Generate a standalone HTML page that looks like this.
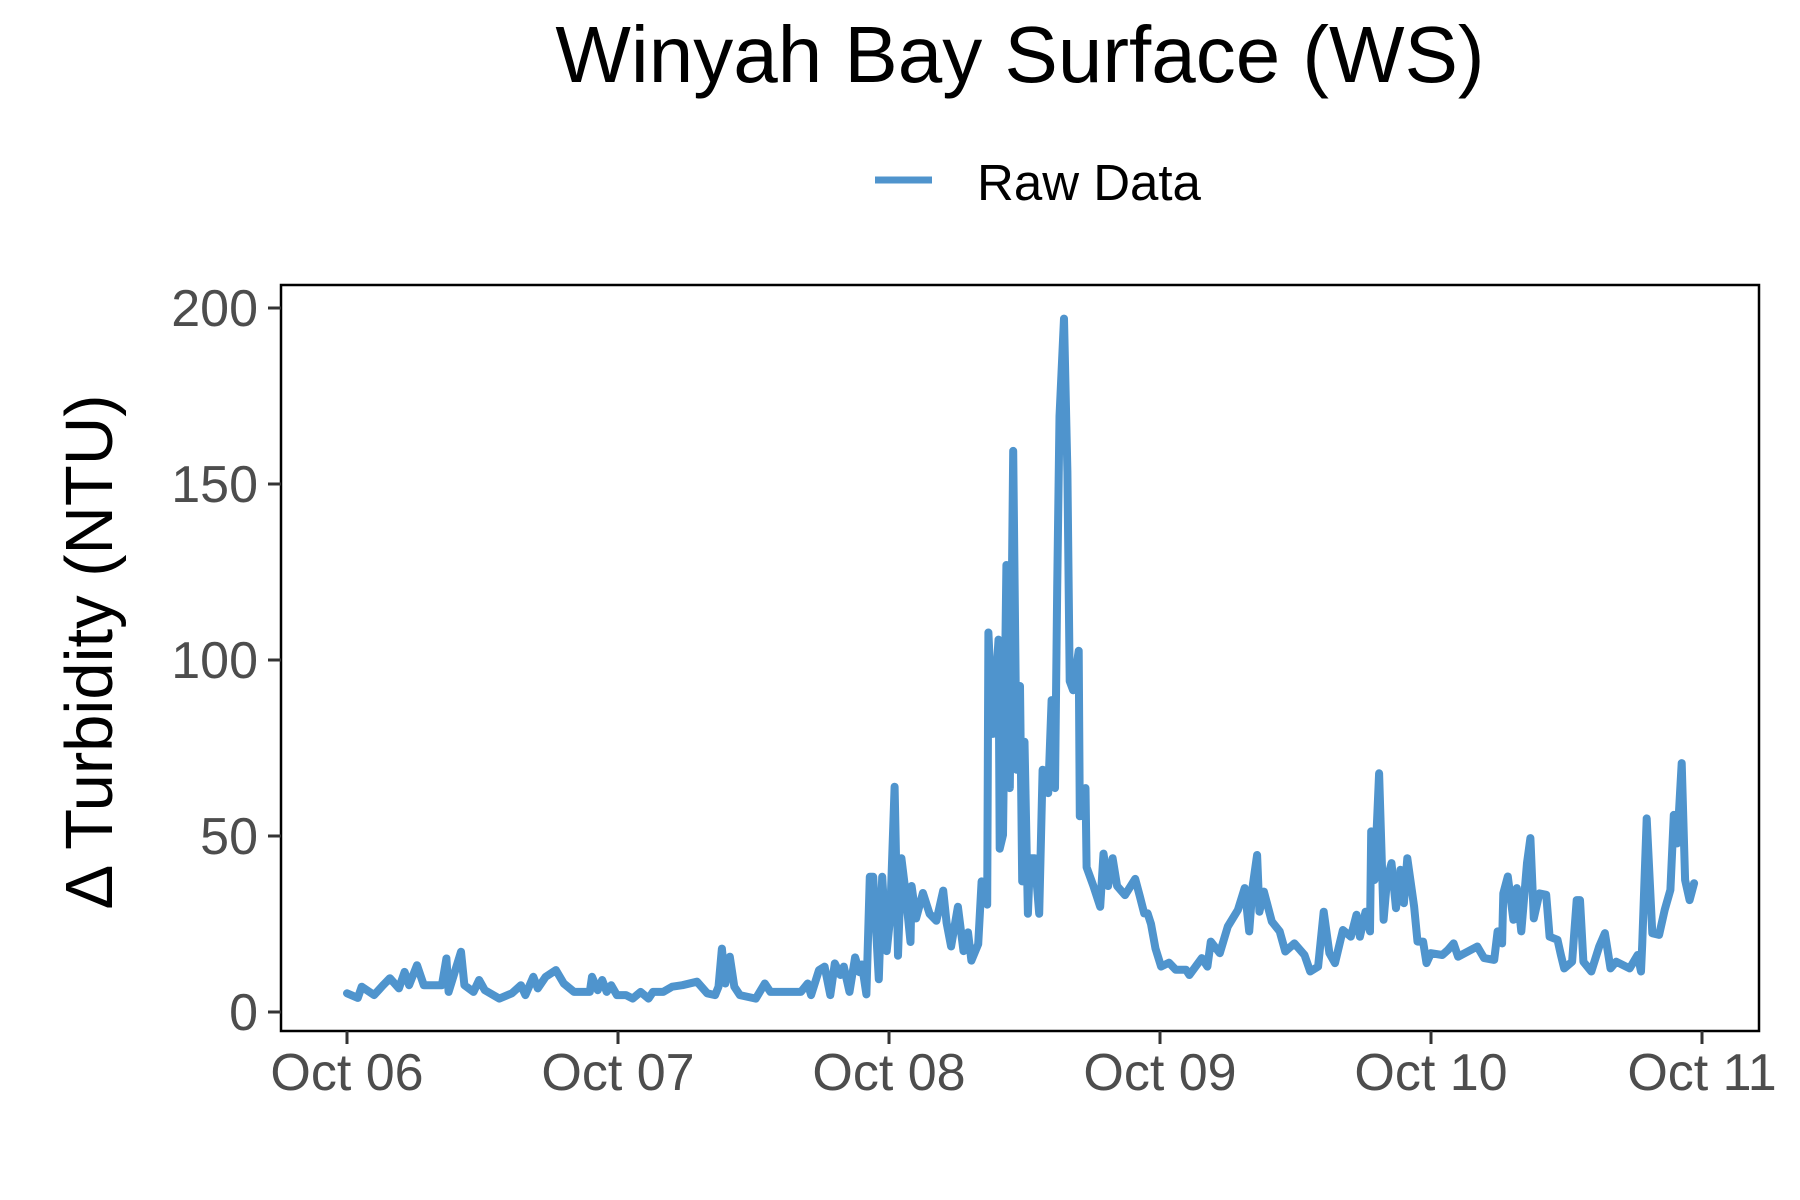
<!DOCTYPE html>
<html><head><meta charset="utf-8"><style>
html,body{margin:0;padding:0;background:#fff;}
svg{display:block;font-family:"Liberation Sans",Arial,sans-serif;}
</style></head><body>
<svg id="chart" width="1800" height="1200" viewBox="0 0 1800 1200" xmlns="http://www.w3.org/2000/svg">
<rect width="1800" height="1200" fill="#fff"/>
<text x="1020" y="82" font-size="80" text-anchor="middle" fill="#000">Winyah Bay Surface (WS)</text>
<g>
<line x1="875" y1="180" x2="932" y2="180" stroke="#4F94CD" stroke-width="7"/>
<text x="977" y="200" font-size="51" fill="#000">Raw Data</text>
</g>
<text transform="translate(112,652) rotate(-90)" font-size="67" text-anchor="middle" fill="#000">Δ Turbidity (NTU)</text>
<g id="plot"></g>
</svg>
<script>
const hours = [0,0.96,1.3,2.4,3.2,3.8,4.6,5.1,5.5,6.2,6.8,8.4,8.8,9.0,10.1,10.4,11.2,11.7,12.2,13.5,14.6,15.4,15.8,16.5,16.9,17.6,18.5,19.2,20.1,21.5,21.7,22.2,22.6,23.0,23.4,23.9,24.7,25.3,26.0,26.7,27.1,28.0,28.8,29.7,31.0,31.9,32.6,32.9,33.2,33.5,33.9,34.3,34.8,36.2,37.0,37.5,40.2,40.8,41.1,41.8,42.3,42.8,43.2,43.7,44.0,44.5,45.0,45.4,45.6,46.0,46.3,46.6,47.1,47.4,47.8,48.1,48.5,48.8,49.1,49.4,49.9,50.0,50.4,51.0,51.6,52.2,52.8,53.1,53.5,54.1,54.6,55.0,55.3,55.9,56.2,56.7,56.8,57.2,57.7,57.8,58.1,58.4,58.7,59.0,59.3,59.6,59.8,60.0,60.3,60.5,60.9,61.3,61.6,62.1,62.4,62.7,62.9,63.1,63.5,63.8,64.0,64.3,64.8,64.9,65.4,65.5,66.1,66.7,67.0,67.4,67.8,68.2,68.9,69.8,70.2,70.6,70.9,71.2,71.6,72.1,72.8,73.4,74.3,74.6,75.7,76.2,76.5,77.3,78.0,78.9,79.5,79.9,80.2,80.6,80.8,81.2,81.9,82.6,83.1,83.9,84.8,85.3,86.0,86.5,87.0,87.5,88.2,88.9,89.4,89.7,90.2,90.6,90.7,91.0,91.4,91.8,92.1,92.5,92.9,93.3,93.6,93.9,94.5,94.8,95.3,95.6,96.0,97.0,97.5,98.0,98.4,100.1,100.7,101.6,101.9,102.3,102.4,102.8,103.3,103.6,104.0,104.5,104.8,105.1,105.6,106.2,106.5,107.2,107.5,107.8,108.5,108.9,109.2,109.5,110.2,110.9,111.4,111.9,112.4,113.6,114.3,114.6,114.7,115.1,115.6,116.2,116.7,117.2,117.5,117.8,118.2,118.5,118.9,119.3];
const turbidity = [5.3,4.0,7.2,4.8,7.6,9.6,6.7,11.4,7.6,13.3,7.6,7.6,15.2,5.7,17.1,7.6,5.7,9.1,6.2,3.8,5.3,7.6,4.8,10.0,6.7,10.0,11.9,8.1,5.7,5.7,10.0,6.2,9.1,5.7,7.6,4.8,4.8,3.8,5.7,3.8,5.7,5.7,7.2,7.6,8.6,5.3,4.8,7.2,18.0,8.1,15.7,7.2,4.8,3.8,8.1,5.7,5.7,8.1,4.8,11.9,12.9,4.8,13.8,10.5,12.9,5.7,15.5,11.3,13.5,5.0,38.4,38.4,9.3,38.4,17.3,26.6,64.0,16.0,43.7,35.8,19.9,35.8,26.6,33.8,27.9,25.9,34.5,25.3,18.6,29.9,17.3,22.6,14.6,19.3,37.1,30.5,107.8,79.0,105.8,46.4,50.3,127.0,63.6,159.4,68.8,92.6,37.1,76.8,27.9,43.7,43.7,27.9,68.8,62.2,88.6,63.6,120.4,169.2,197.0,153.4,94.0,91.4,102.6,55.6,63.6,41.1,35.8,29.9,45.0,35.8,43.7,35.8,33.2,37.8,33.0,28.0,28.0,25.0,18.0,12.9,14.0,12.0,12.0,10.5,15.3,12.9,20.0,16.7,24.3,29.0,35.2,22.9,35.6,44.6,28.5,34.2,25.7,22.9,17.2,19.5,16.2,11.5,12.9,28.5,16.7,13.9,23.3,21.4,27.6,21.4,28.5,22.9,51.3,37.5,67.8,26.2,37.5,42.3,29.5,40.4,30.9,43.7,30.0,20.0,20.0,13.9,16.7,16.2,17.6,19.5,15.7,18.6,15.3,14.8,22.9,19.5,33.7,38.5,26.2,35.2,22.9,42.3,49.4,26.6,33.7,33.3,21.4,20.5,16.2,12.4,14.3,31.8,31.8,14.3,11.5,18.6,22.4,12.4,14.3,12.4,16.2,11.5,19.1,55.0,22.4,21.9,29.0,34.7,56.0,47.9,70.7,37.5,31.8,36.6];
const yTicks = [0,50,100,150,200];
const xTickLabels = ["Oct 06","Oct 07","Oct 08","Oct 09","Oct 10","Oct 11"];
const xTickHours = [0,24,48,72,96,120];

const NS = "http://www.w3.org/2000/svg";
const plot = document.getElementById('plot');
const L=281, R=1759, T=285, B=1031;
const xScale = h => 347 + h * (1702 - 347) / 120;
const yScale = v => 1012 - v * (1012 - 308) / 200;
function mk(tag, attrs){const e=document.createElementNS(NS,tag);for(const k in attrs)e.setAttribute(k,attrs[k]);return e;}

let d = hours.map((h,i)=>(i?'L':'M')+xScale(h).toFixed(1)+','+yScale(turbidity[i]).toFixed(1)).join('');
const line = mk('path',{d:d,fill:'none',stroke:'#4F94CD','stroke-width':8,'stroke-linejoin':'round','stroke-linecap':'round'});


plot.appendChild(line);

const frame = mk('rect',{x:L,y:T,width:R-L,height:B-T,fill:'none',stroke:'#000','stroke-width':2.5});


plot.appendChild(frame);

yTicks.forEach(v=>{
  const y=yScale(v);
  const t=mk('line',{x1:L-13,x2:L,y1:y,y2:y,stroke:'#333','stroke-width':3});
  
  
  plot.appendChild(t);
  const lb=mk('text',{x:258,y:y+18,'font-size':52,'text-anchor':'end',fill:'#4d4d4d'});
  lb.textContent=v;
  
  
  plot.appendChild(lb);
});
xTickHours.forEach((h,i)=>{
  const x=xScale(h);
  const t=mk('line',{x1:x,x2:x,y1:B,y2:B+13,stroke:'#333','stroke-width':3});
  
  
  plot.appendChild(t);
  const lb=mk('text',{x:x,y:1090,'font-size':52,'text-anchor':'middle',fill:'#4d4d4d'});
  lb.textContent=xTickLabels[i];
  
  
  plot.appendChild(lb);
});
</script>
</body></html>
